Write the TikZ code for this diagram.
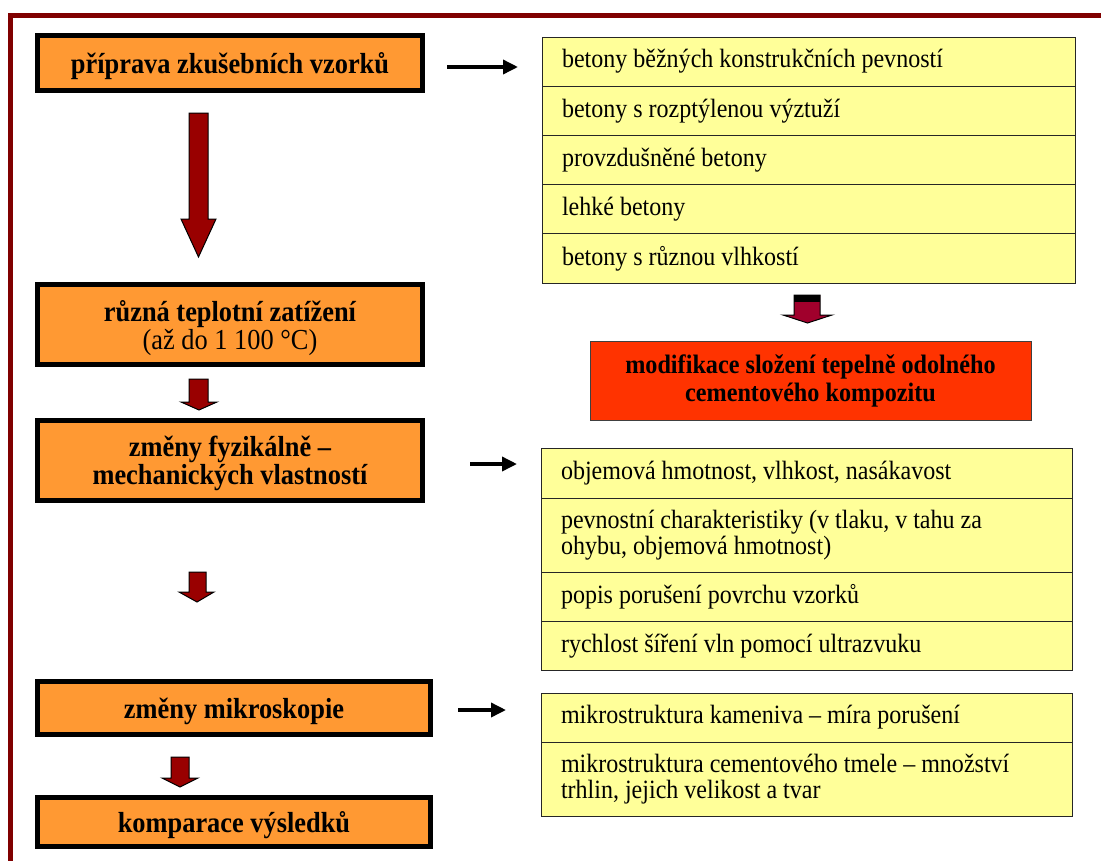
\documentclass[tikz,border=0pt]{standalone}
\usepackage{fontspec}
\setmainfont{Liberation Serif}[FakeStretch=0.91]
\usetikzlibrary{positioning,arrows.meta}

\definecolor{framered}{HTML}{800000}
\definecolor{stageorange}{HTML}{FF9933}
\definecolor{rowyellow}{HTML}{FFFF99}
\definecolor{modifred}{HTML}{FF3300}
\definecolor{arrowred}{HTML}{990000}
\definecolor{arrowcrimson}{HTML}{A0002C}

\tikzset{
  stage/.style={draw=black, line width=5pt, fill=stageorange, outer sep=0pt,
    minimum width=385pt, align=flush center, text depth=0pt,
    font=\fontsize{29}{28}\selectfont\bfseries},
  itemrow/.style={draw=black!85, line width=1pt, fill=rowyellow, outer sep=0pt,
    text width=491pt, inner xsep=20pt, minimum height=49.2pt, align=flush left,
    font=\fontsize{26.4}{26}\selectfont},
  modifbox/.style={draw=black!75, line width=1pt, fill=modifred, outer sep=0pt,
    minimum width=441pt, minimum height=79pt, align=flush center,
    font=\fontsize{26.6}{28}\selectfont\bfseries},
  blockarrow/.style={fill=arrowred, draw=black, line width=1pt, line join=miter},
  linkarrow/.style={line width=3.5pt, -{Triangle[length=15pt,width=14pt]}}
}

\begin{document}
\begin{tikzpicture}[x=1pt, y=-1pt]
\useasboundingbox (0,0) rectangle (1101,860);

% frame
\draw[framered, line width=5pt, line join=miter] (1110,15.5) -- (10.5,15.5) -- (10.5,870);

% left column
\node[stage, minimum height=55pt] (prep) at (230,63) {příprava zkušebních vzorků};
\node[stage, minimum height=80pt] (teplo) at (230,324.5) {různá teplotní zatížení\\\mdseries(až do 1 100 °C)};
\node[stage, minimum height=80pt] (fyz) at (230,460.5) {změny fyzikálně –\\mechanických vlastností};
\node[stage, minimum width=393pt, minimum height=53pt] (mikro) at (234,708) {změny mikroskopie};
\node[stage, minimum width=393pt, minimum height=49pt] (kompar) at (234,822) {komparace výsledků};

\draw[blockarrow] (189,113) -- (208,113) -- (208,219) -- (216,219) -- (198.5,257) -- (181,219) -- (189,219) -- cycle;
\draw[blockarrow] (189,379) -- (208,379) -- (208,402) -- (217,402) -- (199,410) -- (181,402) -- (189,402) -- cycle;
\draw[blockarrow] (189,572) -- (206,572) -- (206,592) -- (214,592) -- (197,602) -- (179,592) -- (189,592) -- cycle;
\draw[blockarrow] (171,757) -- (189,757) -- (189,778) -- (198,778) -- (180,787) -- (162,778) -- (171,778) -- cycle;

% concrete types
\node[itemrow, anchor=north west, text width=493pt] (t1a) at (542,37) {betony běžných konstrukčních pevností};
\node[itemrow, text width=493pt, below=0pt of t1a] (t1b) {betony s rozptýlenou výztuží};
\node[itemrow, text width=493pt, below=0pt of t1b] (t1c) {provzdušněné betony};
\node[itemrow, text width=493pt, below=0pt of t1c] (t1d) {lehké betony};
\node[itemrow, text width=493pt, below=0pt of t1d] (t1e) {betony s různou vlhkostí};

% result of the tests
\draw[fill=arrowcrimson, draw=black, line width=1pt, line join=miter] (794,295) -- (820,295) -- (820,315) -- (832,315) -- (807.5,323) -- (783,315) -- (794,315) -- cycle;
\fill[black] (794,295) rectangle (820,302);
\node[modifbox] (modif) at (810.5,380.5) {modifikace složení tepelně odolného\\cementového kompozitu};

% physical and mechanical properties
\node[itemrow, anchor=north west, minimum height=50pt] (t2a) at (541,448) {objemová hmotnost, vlhkost, nasákavost};
\node[itemrow, minimum height=74pt, below=0pt of t2a] (t2b) {pevnostní charakteristiky (v tlaku, v tahu za\\ohybu, objemová hmotnost)};
\node[itemrow, below=0pt of t2b] (t2c) {popis porušení povrchu vzorků};
\node[itemrow, below=0pt of t2c] (t2d) {rychlost šíření vln pomocí ultrazvuku};

% microscopy
\node[itemrow, anchor=north west, minimum height=49pt] (t3a) at (541,693) {mikrostruktura kameniva – míra porušení};
\node[itemrow, minimum height=74pt, below=0pt of t3a] (t3b) {mikrostruktura cementového tmele – množství\\trhlin, jejich velikost a tvar};

\draw[linkarrow] ([xshift=24.5pt,yshift=-4pt]prep.east) -- ([xshift=-24pt,yshift=-4pt]prep.east -| t1a.west);
\draw[linkarrow] ([xshift=47.5pt,yshift=-3.5pt]fyz.east) -- ([xshift=-24pt,yshift=-3.5pt]fyz.east -| t2a.west);
\draw[linkarrow] ([xshift=27.5pt,yshift=-2pt]mikro.east) -- ([xshift=-35pt,yshift=-2pt]mikro.east -| t3a.west);
\end{tikzpicture}
\end{document}
